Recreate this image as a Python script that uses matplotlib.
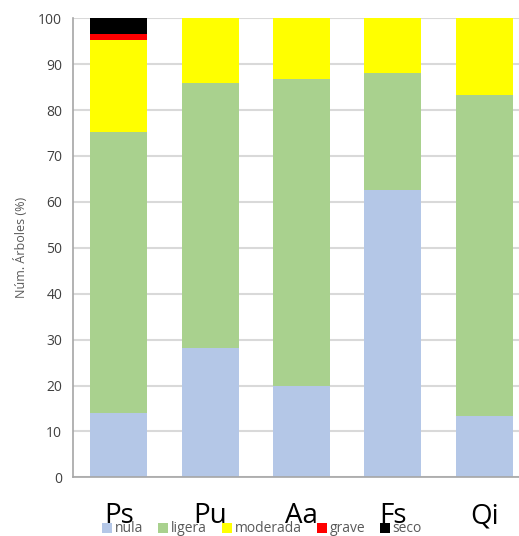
import numpy as np
import matplotlib
matplotlib.use('Agg')
from matplotlib import pyplot as plt

plt.rcParams['font.family'] = ['Open Sans', 'DejaVu Sans']

# porcentaje de arboles por especie y clase de defoliacion
especies = ['Ps', 'Pu', 'Aa', 'Fs', 'Qi']
nula = [14.0, 28.2, 19.9, 62.6, 13.3]
ligera = [61.3, 57.7, 66.8, 25.5, 70.0]
moderada = [19.9, 14.1, 13.3, 11.9, 16.7]
grave = [1.3, 0.0, 0.0, 0.0, 0.0]
seco = [3.5, 0.0, 0.0, 0.0, 0.0]

series = [('nula', nula, '#B4C7E7'),
          ('ligera', ligera, '#A9D18E'),
          ('moderada', moderada, '#FFFF00'),
          ('grave', grave, '#FF0000'),
          ('seco', seco, '#000000')]

fig = plt.figure(figsize=(5.19, 5.36), dpi=100)
ax = fig.add_axes([73.3/519, 1-477.3/536, 456.5/519, (477.3-18.3)/536])

x = np.arange(len(especies))
base = np.zeros(len(especies))
for name, vals, col in series:
    vals = np.array(vals)
    ax.bar(x, vals, 0.624, bottom=base, color=col, label=name,
           edgecolor='none', zorder=2)
    base += vals

ax.set_xlim(-0.5, len(especies) - 0.5)
ax.set_ylim(0, 100)
ax.set_yticks(range(0, 101, 10))
ax.yaxis.grid(True, color='#d9d9d9', linewidth=1.5, zorder=0)
ax.set_axisbelow(True)
for s in ['top', 'right']:
    ax.spines[s].set_visible(False)
for s in ['left', 'bottom']:
    ax.spines[s].set_color('#a6a6a6')
    ax.spines[s].set_linewidth(1.2)
ax.tick_params(axis='both', length=0)
ax.tick_params(axis='y', labelsize=10, labelcolor='#404040', pad=8)
ax.set_xticks(x)
ax.set_xticklabels(especies, fontsize=20, color='black')
ax.tick_params(axis='x', pad=18)
ax.set_ylabel('Núm. Árboles (%)', fontsize=9, color='#595959', labelpad=7)

fig.legend(loc='center', bbox_to_anchor=(0.505, 1-529/536), ncol=5,
           frameon=False, fontsize=10, handlelength=0.7, handleheight=0.7,
           handletextpad=0.2, columnspacing=1.1, labelcolor='#595959',
           borderpad=0, borderaxespad=0)

plt.savefig('out.png', dpi=100)
